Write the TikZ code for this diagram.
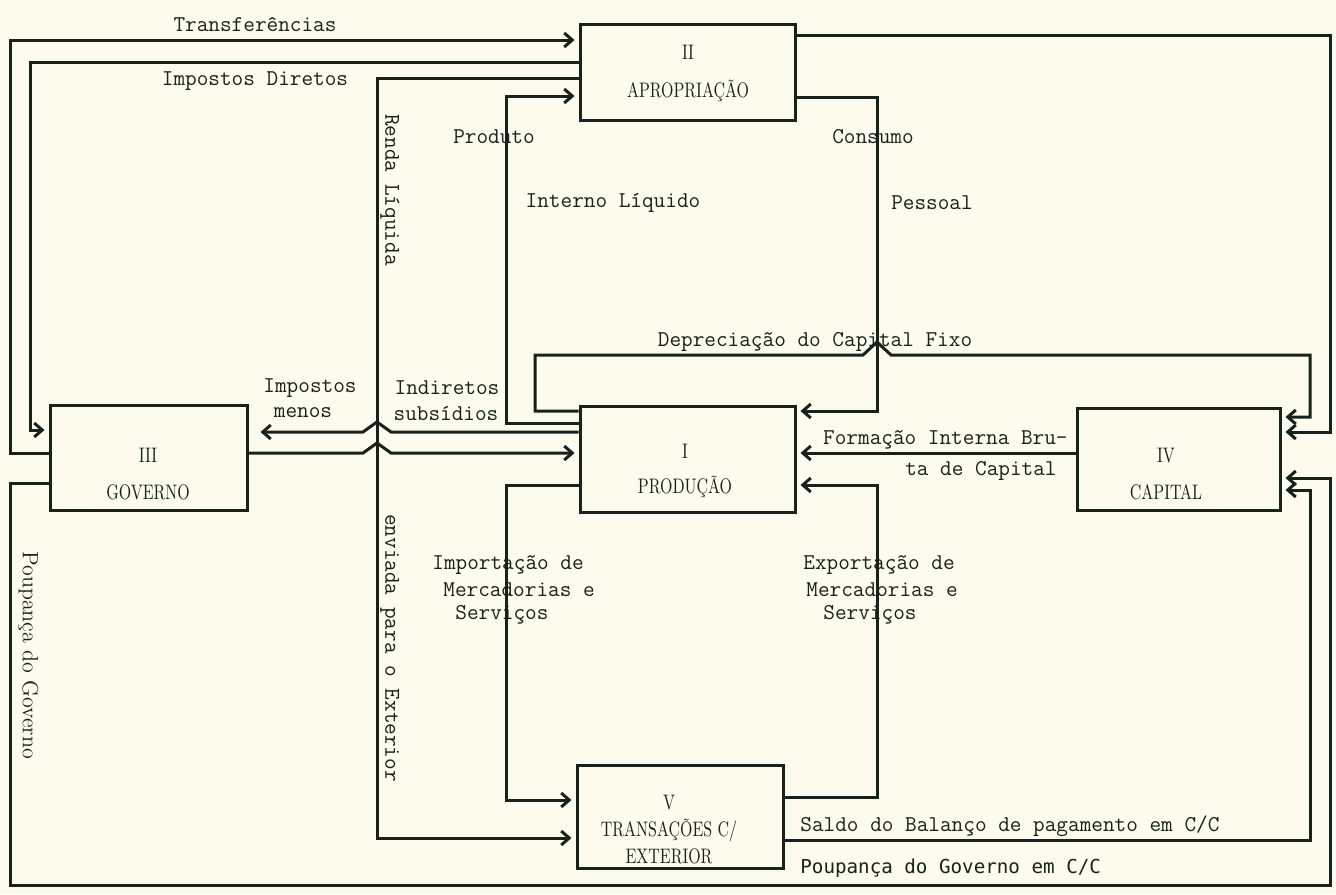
\documentclass[tikz,border=0pt]{standalone}
\usepackage{fontspec}
\usepackage{graphicx}
\usetikzlibrary{arrows.meta}
\newfontfamily\gotica{DejaVu Sans Mono}
\definecolor{papel}{RGB}{252,251,237}
\definecolor{tinta}{RGB}{24,34,26}
\newcommand{\estreito}[1]{\scalebox{0.76}[1]{#1}}
\tikzset{
  caixa/.style 2 args={draw=tinta, line width=1.5pt, minimum width=#1, minimum height=#2, inner sep=0pt},
  nomecaixa/.style={text=tinta, align=center, inner sep=0pt, font=\fontsize{10.5}{#1}\selectfont},
  fluxo/.style={draw=tinta, line width=1.5pt, -{Straight Barb[length=4pt,width=7pt]}, shorten >=2pt},
  rotulo/.style={text=tinta, inner sep=0pt, font=\ttfamily\fontsize{11.3}{13.5}\selectfont},
}
\begin{document}
\begin{tikzpicture}[x=0.5pt, y=-0.5pt]
\fill[papel] (0,0) rectangle (1336,894);
\useasboundingbox (0,0) rectangle (1336,894);

% contas
\node[caixa={107.5pt}{48pt}] (aprop) at (687.5,72) {};
\node[caixa={107.5pt}{53pt}] (prod) at (687.5,459) {};
\node[caixa={98.5pt}{52.5pt}] (gov) at (148.5,457.5) {};
\node[caixa={101.5pt}{51pt}] (cap) at (1178.5,459) {};
\node[caixa={103pt}{51.5pt}] (ext) at (680,816.5) {};

\node[nomecaixa=19pt] (aprop-t) at (688,73) {\estreito{II}\\\estreito{APROPRIAÇÃO}};
\node[nomecaixa=17.5pt] (prod-t) at (685,470.5) {\estreito{I}\\\estreito{PRODUÇÃO}};
\node[nomecaixa=18.5pt] (gov-t) at (148,474) {\estreito{III}\\\estreito{GOVERNO}};
\node[nomecaixa=18.5pt] (cap-t) at (1166,474) {\estreito{IV}\\\estreito{CAPITAL}};
\node[nomecaixa=13.5pt] (ext-t) at (669,830) {\estreito{V}\\\estreito{TRANSAÇÕES C/}\\\estreito{EXTERIOR}};

% fluxos
\draw[fluxo] (gov.west |- 0,453) -| (10,40) -- (aprop.west |- 0,40);
\draw[fluxo] (aprop.west |- 0,62) -| (30,430) -- (gov.west |- 0,430);
\draw[fluxo] (aprop.west |- 0,78) -| (377,838) -- (ext.west |- 0,838);
\draw[fluxo] (prod.west |- 0,423) -| (506,96) -- (aprop.west |- 0,96);
\draw[fluxo] (aprop.east |- 0,97) -| (877,411) -- (prod.east |- 0,411);
\draw[fluxo] (prod.west |- 0,411) -| (535,355) -- (863,355) -- ++(14,-13) -- ++(14,13) -| (1310,417) -- (cap.east |- 0,417);
\draw[fluxo] (aprop.east |- 0,35) -| (1330,432) -- (cap.east |- 0,432);
\draw[fluxo] (cap.west |- 0,453) -- (prod.east |- 0,453);
\draw[fluxo, shorten >=6pt] (prod.west |- 0,432) -- (391,432) -- ++(-14,-10) -- ++(-14,10) -- (gov.east |- 0,432);
\draw[fluxo] (gov.east |- 0,453) -- (363,453) -- ++(14,-10) -- ++(14,10) -- (prod.west |- 0,453);
\draw[fluxo] (prod.west |- 0,485) -| (506,800) -- (ext.west |- 0,800);
\draw[fluxo] (ext.east |- 0,797) -| (877,485) -- (prod.east |- 0,485);
\draw[fluxo] (ext.east |- 0,840) -| (1310,490) -- (cap.east |- 0,490);
\draw[fluxo] (gov.west |- 0,483) -| (10,885) -| (1330,478) -- (cap.east |- 0,478);

% rotulos
\node[rotulo] (transf) at (255,25) {Transferências};
\node[rotulo] (impdir) at (255,81) {Impostos Diretos};
\node[rotulo, rotate=-90, anchor=south] (renda) at (380,190) {Renda Líquida};
\node[rotulo, rotate=-90, anchor=south] (enviada) at (380,648) {enviada para o Exterior};
\node[rotulo, font=\rmfamily\fontsize{11}{13}\selectfont, rotate=-90, anchor=south] (poupgov) at (18,655) {Poupança do Governo};
\node[rotulo] (pil1) at (494,137) {Produto};
\node[rotulo] (pil2) at (613,203) {Interno Líquido};
\node[rotulo] (cons1) at (873,137) {Consumo};
\node[rotulo] (cons2) at (932,203) {Pessoal};
\node[rotulo] (deprec) at (815,342) {Depreciação do Capital Fixo};
\node[rotulo] (impind1) at (310,388) {Impostos};
\node[rotulo] (impind2) at (303,413) {menos};
\node[rotulo] (impind3) at (447,388) {Indiretos};
\node[rotulo] (impind4) at (446,414) {subsídios};
\node[rotulo, anchor=east] (form1) at (1068,440) {Formação Interna Bru-};
\node[rotulo, anchor=east] (form2) at (1057,471) {ta de Capital};
\node[rotulo, anchor=west] (imp1) at (432,565) {Importação de};
\node[rotulo, anchor=west] (imp2) at (443,590) {Mercadorias e};
\node[rotulo, anchor=west] (imp3) at (455,615) {Serviços};
\node[rotulo, anchor=west] (exp1) at (803,565) {Exportação de};
\node[rotulo, anchor=west] (exp2) at (806,590) {Mercadorias e};
\node[rotulo, anchor=west] (exp3) at (823,615) {Serviços};
\node[rotulo, anchor=west] (saldo) at (800,826) {Saldo do Balanço de pagamento em C/C};
\node[rotulo, font=\gotica\fontsize{9.6}{12}\selectfont, anchor=west] (poupcc) at (800,868) {Poupança do Governo em C/C};
\end{tikzpicture}
\end{document}
